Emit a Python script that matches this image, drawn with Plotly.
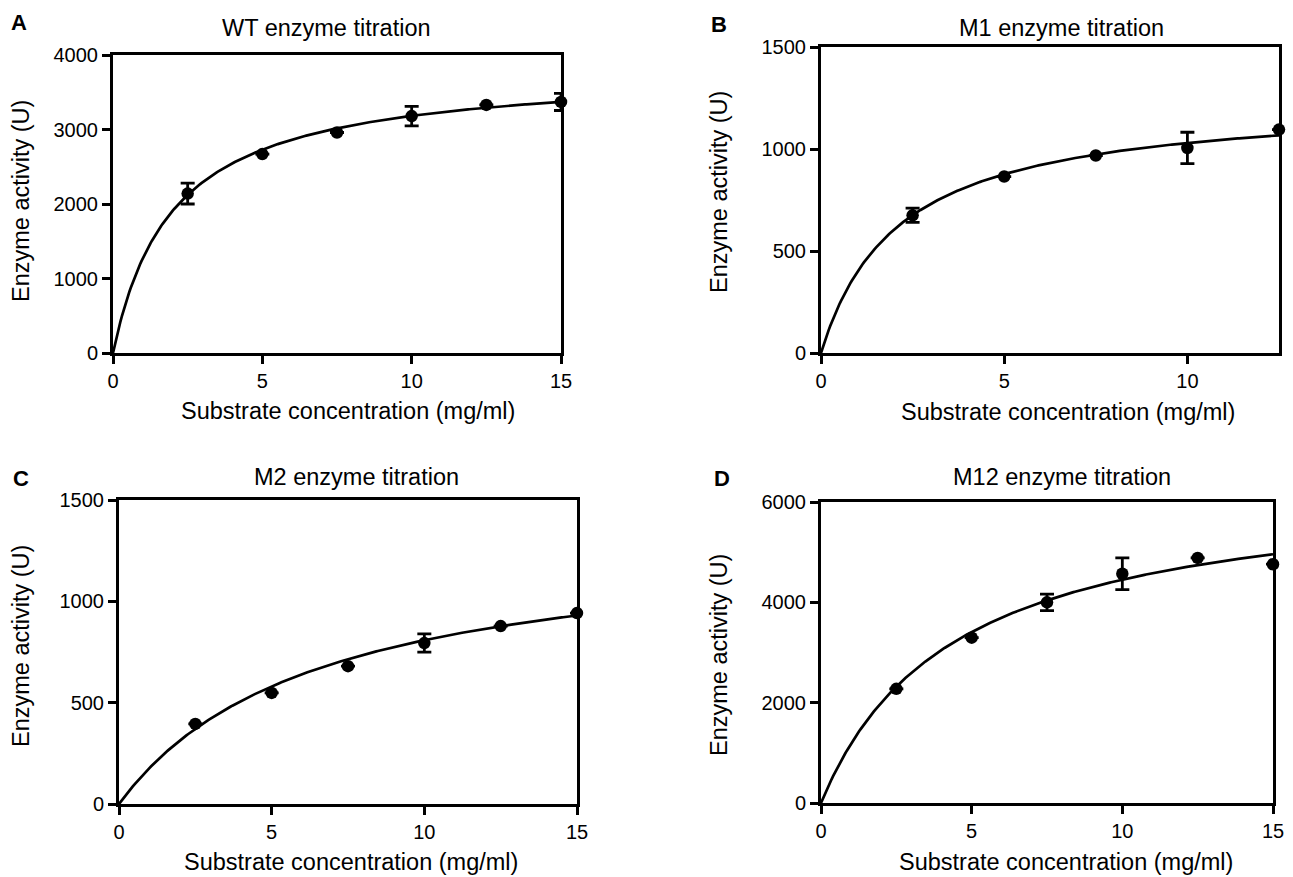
import numpy as np
import plotly.graph_objects as go

# ---------------- data ----------------
substrate = [2.5, 5.0, 7.5, 10.0, 12.5, 15.0]
substrate_m1 = [2.5, 5.0, 7.5, 10.0, 12.5]

wt_activity = [2140, 2670, 2960, 3180, 3330, 3370]
wt_error = [140, None, None, 130, None, 115]
wt_vmax, wt_km = 3820, 2.0

m1_activity = [675, 865, 968, 1005, 1095]
m1_error = [35, None, None, 77, None]
m1_vmax, m1_km = 1248, 2.12

m2_activity = [395, 548, 680, 794, 878, 942]
m2_error = [None, None, None, 45, None, None]
m2_vmax, m2_km = 1332, 6.48

m12_activity = [2275, 3295, 4000, 4570, 4885, 4760]
m12_error = [None, None, 165, 315, None, None]
m12_vmax, m12_km = 6420, 4.42

titles = ["WT enzyme titration", "M1 enzyme titration",
          "M2 enzyme titration", "M12 enzyme titration"]
letters = ["A", "B", "C", "D"]
x_title = "Substrate concentration (mg/ml)"
y_title = "Enzyme activity (U)"

x_ranges = [[0, 15], [0, 12.5], [0, 15], [0, 15]]
y_ranges = [[0, 4000], [0, 1500], [0, 1500], [0, 6000]]
y_dticks = [1000, 500, 500, 2000]
x_ticks = [0, 5, 10, 15]

# ---------------- layout geometry (pixels) ----------------
W, H = 1293, 877
boxes = [  # left, right, top, bottom
    (113, 561, 55, 353),
    (821, 1279, 47, 353),
    (119, 577, 500, 804),
    (821, 1273, 502, 803),
]
title_pos = [(326, 28), (1061, 28), (356, 477), (1062, 477)]
letter_pos = [(19, 23), (719, 25), (21, 478), (722, 478)]
xtitle_pos = [(348, 411), (1068, 412), (351, 862), (1066, 862)]
ytitle_pos = [(21, 201), (719, 192), (21, 646), (719, 655)]


def fx(px):
    return px / W


def fy(py):
    return 1 - py / H


FONT = "Liberation Sans, Arial, sans-serif"
TXT = 23.5

series = [
    (substrate, wt_activity, wt_error, wt_vmax, wt_km),
    (substrate_m1, m1_activity, m1_error, m1_vmax, m1_km),
    (substrate, m2_activity, m2_error, m2_vmax, m2_km),
    (substrate, m12_activity, m12_error, m12_vmax, m12_km),
]

fig = go.Figure()
annotations = []
layout_axes = {}

for i, (xs, ys, errs, vmax, km) in enumerate(series):
    n = i + 1
    xa = "x" if n == 1 else f"x{n}"
    ya = "y" if n == 1 else f"y{n}"
    # fitted Michaelis-Menten curve
    xc = np.linspace(0, x_ranges[i][1], 300)
    yc = vmax * xc / (km + xc)
    fig.add_trace(go.Scatter(x=xc, y=yc, mode="lines",
                             line=dict(color="black", width=2.7),
                             xaxis=xa, yaxis=ya, showlegend=False,
                             hoverinfo="skip"))
    fig.add_trace(go.Scatter(
        x=xs, y=ys, mode="markers",
        marker=dict(color="black", size=12.5, symbol="circle"),
        error_y=dict(type="data", array=errs, visible=True,
                     color="black", thickness=2.8, width=7),
        xaxis=xa, yaxis=ya, showlegend=False, cliponaxis=False))

    l, r, t, b = boxes[i]
    axis_common = dict(showline=True, linecolor="black", linewidth=3,
                       mirror=True, ticks="outside", ticklen=8,
                       tickwidth=2.7, tickcolor="black", showgrid=False,
                       zeroline=False, automargin=False,
                       tickfont=dict(family=FONT, size=20, color="black"))
    layout_axes["xaxis" if n == 1 else f"xaxis{n}"] = dict(
        domain=[fx(l), fx(r)], range=x_ranges[i], tickvals=x_ticks,
        anchor=ya, **axis_common)
    layout_axes["yaxis" if n == 1 else f"yaxis{n}"] = dict(
        domain=[fy(b), fy(t)], range=y_ranges[i], dtick=y_dticks[i],
        tick0=0, anchor=xa, **axis_common)

    annotations.append(dict(text=titles[i], x=fx(title_pos[i][0]),
                            y=fy(title_pos[i][1]), xref="paper",
                            yref="paper", showarrow=False,
                            xanchor="center", yanchor="middle",
                            font=dict(family=FONT, size=TXT, color="black")))
    annotations.append(dict(text=f"<b>{letters[i]}</b>",
                            x=fx(letter_pos[i][0]), y=fy(letter_pos[i][1]),
                            xref="paper", yref="paper", showarrow=False,
                            xanchor="center", yanchor="middle",
                            font=dict(family=FONT, size=22, color="black")))
    annotations.append(dict(text=x_title, x=fx(xtitle_pos[i][0]),
                            y=fy(xtitle_pos[i][1]), xref="paper",
                            yref="paper", showarrow=False,
                            xanchor="center", yanchor="middle",
                            font=dict(family=FONT, size=TXT, color="black")))
    annotations.append(dict(text=y_title, x=fx(ytitle_pos[i][0]),
                            y=fy(ytitle_pos[i][1]), xref="paper",
                            yref="paper", showarrow=False, textangle=-90,
                            xanchor="center", yanchor="middle",
                            font=dict(family=FONT, size=TXT, color="black")))

fig.update_layout(width=W, height=H,
                  margin=dict(l=0, r=0, t=0, b=0, pad=0, autoexpand=False),
                  paper_bgcolor="white", plot_bgcolor="white",
                  annotations=annotations, **layout_axes)

fig.write_html("out.html", config={"displayModeBar": False},
               post_script="document.body.style.margin='0';"
                           "document.body.style.overflow='hidden';")
